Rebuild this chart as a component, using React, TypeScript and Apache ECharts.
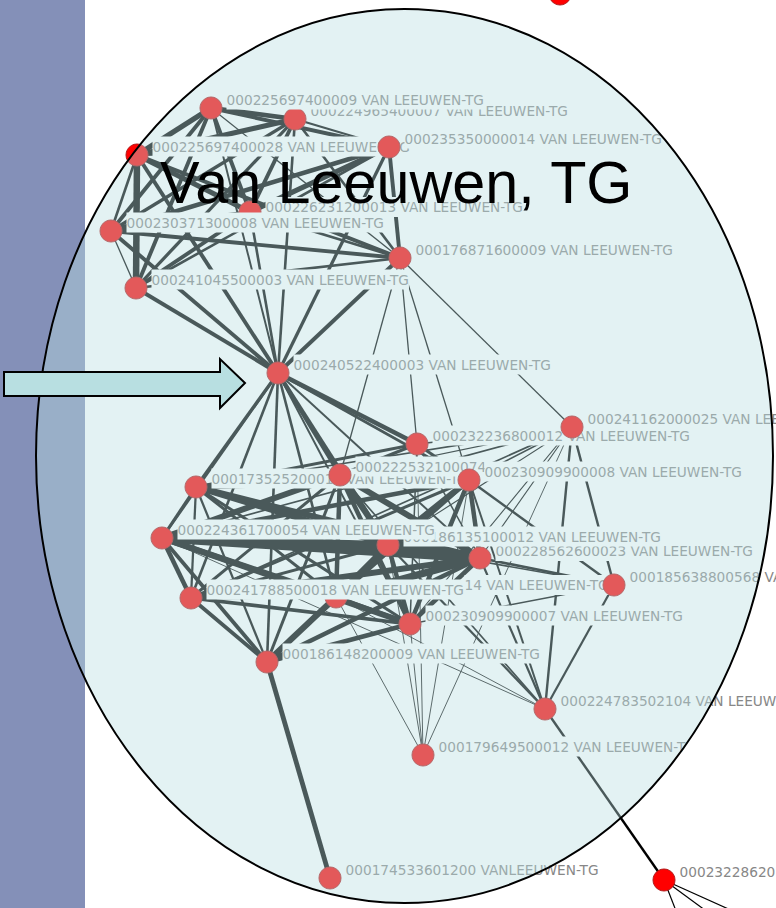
import React, { useEffect, useRef } from "react";
import * as echarts from "echarts";

const W = 776;
const H = 908;

const titleText = "Van Leeuwen, TG";

// Draw order matters: later nodes sit on top of earlier labels.
const nodeIds = [
  "top", "n2", "n5", "n17", "n16", "n20", "n1", "n4", "n3", "n6", "n7", "n8", "n9",
  "n10", "n11", "n12", "n13", "n14", "n15", "n18", "n19", "n21", "n22",
  "n23", "n24", "n25", "n26",
];
const nodeX: Record<string, number> = {
  top: 560, n1: 211, n2: 295, n3: 389, n4: 137, n5: 250, n6: 111, n7: 400, n8: 136, n9: 278,
  n10: 417, n11: 572, n12: 196, n13: 340, n14: 469, n15: 162, n16: 388, n17: 480, n18: 614,
  n19: 191, n20: 336, n21: 410, n22: 267, n23: 545, n24: 423, n25: 330, n26: 664,
};
const nodeY: Record<string, number> = {
  top: -6, n1: 108, n2: 119, n3: 147, n4: 155, n5: 212, n6: 231, n7: 258, n8: 288, n9: 373,
  n10: 444, n11: 427, n12: 487, n13: 475, n14: 480, n15: 538, n16: 545, n17: 558, n18: 585,
  n19: 598, n20: 597, n21: 624, n22: 662, n23: 709, n24: 755, n25: 878, n26: 880,
};
const nodeLabels: Record<string, string> = {
  n1: "000225697400009 VAN LEEUWEN-TG",
  n2: "000224965400007 VAN LEEUWEN-TG",
  n3: "000235350000014 VAN LEEUWEN-TG",
  n4: "000225697400028 VAN LEEUWEN-TG",
  n5: "000226231200013 VAN LEEUWEN-TG",
  n6: "000230371300008 VAN LEEUWEN-TG",
  n7: "000176871600009 VAN LEEUWEN-TG",
  n8: "000241045500003 VAN LEEUWEN-TG",
  n9: "000240522400003 VAN LEEUWEN-TG",
  n10: "000232236800012 VAN LEEUWEN-TG",
  n11: "000241162000025 VAN LEE",
  n12: "000173525200011 VAN LEEUWEN-TG",
  n13: "000222532100074",
  n14: "000230909900008 VAN LEEUWEN-TG",
  n15: "000224361700054 VAN LEEUWEN-TG",
  n16: "000186135100012 VAN LEEUWEN-TG",
  n17: "000228562600023 VAN LEEUWEN-TG",
  n18: "000185638800568 VA",
  n19: "000241788500018 VAN LEEUWEN-TG",
  n20: "14 VAN LEEUWEN-TG",
  n21: "000230909900007 VAN LEEUWEN-TG",
  n22: "000186148200009 VAN LEEUWEN-TG",
  n23: "000224783502104 VAN LEEUW",
  n24: "000179649500012 VAN LEEUWEN-T",
  n25: "000174533601200 VANLEEUWEN-TG",
  n26: "00023228620",
};

// Off-page ends of the edges leaving the bottom node
const exitX: Record<string, number> = { x1: 744, x2: 713, x3: 678 };
const exitY: Record<string, number> = { x1: 916, x2: 916, x3: 916 };

type Edge = [string, string, number];
const topClusterEdges: Edge[] = [
  ["n1", "n2", 3.5], ["n1", "n4", 4], ["n1", "n6", 3], ["n1", "n8", 3], ["n1", "n5", 3], ["n1", "n7", 1],
  ["n1", "n3", 3], ["n2", "n4", 4], ["n2", "n6", 2.5], ["n2", "n8", 2.5], ["n2", "n5", 3], ["n2", "n7", 2],
  ["n2", "n3", 1.5], ["n3", "n6", 3.5], ["n3", "n5", 4], ["n3", "n8", 2], ["n3", "n7", 3], ["n3", "n4", 2],
  ["n4", "n8", 5], ["n4", "n6", 2], ["n4", "n5", 4], ["n4", "n7", 3], ["n5", "n6", 3], ["n5", "n8", 3],
  ["n5", "n7", 2], ["n6", "n7", 3], ["n6", "n8", 1], ["n7", "n8", 2],
];
const bridgeEdges: Edge[] = [
  ["n9", "n8", 3], ["n9", "n6", 3], ["n9", "n4", 3], ["n9", "n1", 1.5], ["n9", "n5", 2], ["n9", "n2", 2],
  ["n9", "n3", 2.5], ["n9", "n7", 3], ["n7", "n13", 1], ["n7", "n10", 1], ["n7", "n14", 1], ["n7", "n11", 1],
  ["n9", "n12", 2.5], ["n9", "n15", 2], ["n9", "n19", 2], ["n9", "n22", 2], ["n9", "n20", 2], ["n9", "n13", 3],
  ["n9", "n16", 3], ["n9", "n10", 3.5], ["n9", "n21", 1.5], ["n9", "n17", 1.5], ["n9", "n14", 2],
];
const lowerClusterEdges: Edge[] = [
  ["n12", "n15", 2], ["n12", "n19", 1.5], ["n12", "n13", 3], ["n12", "n14", 3], ["n12", "n16", 4], ["n12", "n17", 4],
  ["n12", "n20", 2], ["n12", "n21", 2], ["n12", "n22", 1.5], ["n15", "n16", 5], ["n15", "n17", 6], ["n15", "n19", 3],
  ["n15", "n22", 2.5], ["n15", "n14", 3], ["n15", "n13", 4], ["n15", "n20", 4], ["n15", "n21", 4], ["n19", "n16", 2],
  ["n19", "n17", 4], ["n19", "n13", 2], ["n19", "n14", 2], ["n19", "n20", 2], ["n19", "n21", 2.5], ["n19", "n22", 2.5],
  ["n22", "n20", 4], ["n22", "n16", 2], ["n22", "n13", 2], ["n22", "n14", 1.5], ["n22", "n17", 3], ["n22", "n21", 3],
  ["n13", "n14", 3], ["n13", "n16", 4], ["n13", "n17", 4], ["n13", "n20", 3], ["n13", "n21", 3], ["n13", "n10", 2],
  ["n14", "n16", 4], ["n14", "n17", 3], ["n14", "n20", 3], ["n14", "n21", 3], ["n14", "n10", 2],
  ["n16", "n17", 7], ["n16", "n20", 4], ["n16", "n21", 3], ["n17", "n20", 5], ["n17", "n21", 3], ["n20", "n21", 3],
  ["n10", "n12", 2], ["n10", "n17", 1], ["n10", "n21", 1],
];
const rightSideEdges: Edge[] = [
  ["n11", "n10", 1.5], ["n11", "n12", 1.5], ["n11", "n15", 1.5], ["n11", "n19", 1.5], ["n11", "n13", 1], ["n11", "n14", 1.5],
  ["n11", "n16", 1], ["n11", "n17", 1], ["n11", "n21", 1], ["n11", "n23", 2.2], ["n11", "n18", 2.2], ["n11", "n24", 0.8],
  ["n14", "n18", 2.2], ["n14", "n23", 1.8], ["n16", "n18", 1.5], ["n17", "n18", 2.5], ["n18", "n21", 1.2], ["n18", "n23", 2],
  ["n17", "n23", 2], ["n16", "n23", 2], ["n13", "n23", 1.5], ["n20", "n23", 0.8], ["n15", "n23", 0.8],
  ["n21", "n24", 0.8], ["n16", "n24", 0.8], ["n20", "n24", 0.8], ["n14", "n24", 0.8], ["n10", "n24", 0.8],
];
const bottomEdges: Edge[] = [
  ["n22", "n25", 4], ["n23", "n26", 2], ["n26", "x1", 1], ["n26", "x2", 1], ["n26", "x3", 1],
];

const edgeGroups: [Edge[], number][] = [
  [topClusterEdges, 1.3],
  [bridgeEdges, 1.3],
  [lowerClusterEdges, 1.5],
  [rightSideEdges, 1.1],
  [bottomEdges, 1.2],
];
const px = (id: string) => nodeX[id] ?? exitX[id];
const py = (id: string) => nodeY[id] ?? exitY[id];

export default function App() {
  const ref = useRef<HTMLDivElement>(null);
  useEffect(() => {
    const chart = echarts.init(ref.current!, undefined, { renderer: "svg" });
    const labelDy = (id: string) => (id === "n5" ? -5 : id === "n17" ? -7 : id === "n20" ? -12 : -8.5);
    const nodeSeries = nodeIds.map((id, i) => ({
      type: "scatter",
      coordinateSystem: "cartesian2d",
      clip: false,
      z: 11 + i,
      symbol: "circle",
      symbolSize: 22,
      silent: true,
      itemStyle: { color: "#ff0000", borderColor: "#b01818", borderWidth: 1, opacity: 1 },
      label: {
        show: !!nodeLabels[id],
        position: "right",
        distance: id === "n20" ? 117 : 4,
        offset: [0, labelDy(id)],
        formatter: nodeLabels[id] ?? "",
        color: "#878787",
        fontFamily: "DejaVu Sans",
        fontSize: 13.7,
        backgroundColor: "#ffffff",
        padding: [5, 0, 1, 0],
      },
      data: [[nodeX[id], nodeY[id]]],
    }));
    chart.setOption({
      animation: false,
      backgroundColor: "#ffffff",
      grid: { left: 0, right: 0, top: 0, bottom: 0 },
      xAxis: { type: "value", min: 0, max: W, show: false },
      yAxis: { type: "value", min: 0, max: H, inverse: true, show: false },
      series: [
        {
          type: "lines",
          coordinateSystem: "cartesian2d",
          z: 10,
          silent: true,
          clip: true,
          lineStyle: { color: "#000000", opacity: 1 },
          data: edgeGroups.flatMap(([edges, k]) =>
            edges.map(([a, b, w]) => ({
              coords: [[px(a), py(a)], [px(b), py(b)]],
              lineStyle: { width: w * k, color: "#000000", opacity: 1 },
            }))
          ),
        },
        ...nodeSeries,
      ],
      graphic: [
        { type: "rect", z: 0, silent: true, shape: { x: 0, y: 0, width: 85, height: H }, style: { fill: "#8490b8" } },
        {
          type: "ellipse", z: 100, silent: true,
          shape: { cx: 404.5, cy: 456, rx: 368.5, ry: 447 },
          style: { fill: "rgba(185,222,225,0.4)", stroke: "#000000", lineWidth: 2 },
        },
        {
          type: "polygon", z: 101, silent: true,
          shape: { points: [[4, 372], [220, 372], [220, 359], [245, 383], [220, 408], [220, 396], [4, 396]] },
          style: { fill: "#b8dfe1", stroke: "#000000", lineWidth: 2 },
        },
        {
          type: "text", z: 102, silent: true, x: 160, y: 212,
          style: {
            text: titleText, fill: "#000000", fontFamily: "Liberation Sans", fontSize: 59.3,
            textAlign: "left", textVerticalAlign: "bottom", verticalAlign: "alphabetic",
          },
        },
      ],
    });
    return () => chart.dispose();
  }, []);
  return <div ref={ref} style={{ position: "absolute", left: 0, top: 0, width: W, height: H }} />;
}
